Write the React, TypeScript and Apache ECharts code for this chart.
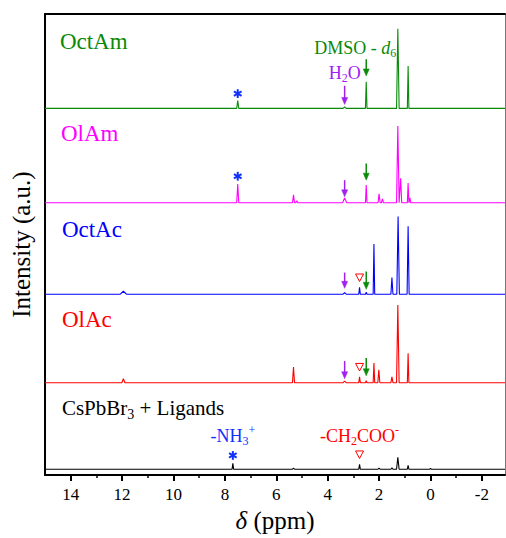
import React, { useEffect, useRef } from "react";
import * as echarts from "echarts";

const X_MIN = -2.9;
const X_MAX = 15;
const Y_MAX = 469;
const TICKS_MAJOR = [14, 12, 10, 8, 6, 4, 2, 0, -2];
const TICKS_MINOR = [13, 11, 9, 7, 5, 3, 1, -1];

const TRACE_NAMES = ["OctAm", "OlAm", "OctAc", "OlAc", "CsPbBr3 + Ligands"];
const TRACE_OFFSETS = [373, 277, 184, 94, 6];

const OCTAM_PPM = [7.5, 3.34, 2.5, 1.27, 0.87];
const OCTAM_INT = [8, 1.5, 27, 81, 43];
const OCTAM_WID = [0.04, 0.06, 0.03, 0.05, 0.03];

const OLAM_PPM = [7.5, 5.33, 5.2, 3.34, 2.5, 2.0, 1.87, 1.27, 1.16, 0.87, 0.8];
const OLAM_INT = [19, 8, 2, 5, 18, 9, 4, 78, 25, 20, 5];
const OLAM_WID = [0.04, 0.04, 0.04, 0.08, 0.03, 0.04, 0.04, 0.05, 0.04, 0.03, 0.03];

const OCTAC_PPM = [11.95, 3.34, 2.76, 2.5, 2.2, 1.5, 1.26, 0.87];
const OCTAC_INT = [3, 1.5, 7, 2, 51, 17, 79, 69];
const OCTAC_WID = [0.12, 0.06, 0.03, 0.03, 0.03, 0.04, 0.05, 0.04];

const OLAC_PPM = [11.95, 5.33, 3.34, 2.76, 2.5, 2.2, 2.01, 1.5, 1.27, 0.87];
const OLAC_INT = [4, 16, 1.5, 6, 2, 20, 13, 6, 79, 30];
const OLAC_WID = [0.06, 0.04, 0.06, 0.03, 0.03, 0.03, 0.04, 0.04, 0.05, 0.03];

const CSPB_PPM = [7.69, 5.33, 2.76, 2.0, 1.5, 1.27, 0.87, 0.0];
const CSPB_INT = [6, 1, 5, 1, 1.5, 12, 4, 1];
const CSPB_WID = [0.03, 0.04, 0.03, 0.04, 0.04, 0.05, 0.03, 0.03];

const TRACE_PEAKS = [
  [OCTAM_PPM, OCTAM_INT, OCTAM_WID],
  [OLAM_PPM, OLAM_INT, OLAM_WID],
  [OCTAC_PPM, OCTAC_INT, OCTAC_WID],
  [OLAC_PPM, OLAC_INT, OLAC_WID],
  [CSPB_PPM, CSPB_INT, CSPB_WID],
];
const TRACE_COLORS = ["#0a8a0a", "#ff00ff", "#0000ff", "#ff0000", "#000000"];

const SERIF = "'Liberation Serif', 'Times New Roman', serif";
const GREEN = "#0a8a0a";
const PURPLE = "#a020f0";
const BLUE = "#1030ff";
const RED = "#ff0000";

function buildTrace(ppm: number[], inten: number[], wid: number[], offset: number) {
  const idx = ppm.map((_, i) => i).sort((a, b) => ppm[b] - ppm[a]);
  const pts: number[][] = [[X_MAX, offset]];
  for (const i of idx) {
    pts.push([ppm[i] + wid[i], offset]);
    pts.push([ppm[i], offset + inten[i]]);
    pts.push([ppm[i] - wid[i], offset]);
  }
  pts.push([X_MIN, offset]);
  return pts;
}

// annotation layout (trace index, ppm, units above baseline)
const ARROWS = [
  { t: 0, ppm: 3.34, top: 23, bot: 4, color: PURPLE },
  { t: 0, ppm: 2.5, top: 50, bot: 33, color: GREEN },
  { t: 1, ppm: 3.34, top: 23, bot: 6, color: PURPLE },
  { t: 1, ppm: 2.5, top: 40, bot: 23, color: GREEN },
  { t: 2, ppm: 3.34, top: 22, bot: 6, color: PURPLE },
  { t: 2, ppm: 2.5, top: 23, bot: 5, color: GREEN },
  { t: 3, ppm: 3.34, top: 22, bot: 4, color: PURPLE },
  { t: 3, ppm: 2.5, top: 25, bot: 7, color: GREEN },
];
const STARS = [
  { t: 0, ppm: 7.5, y: 15 },
  { t: 1, ppm: 7.5, y: 27 },
  { t: 4, ppm: 7.69, y: 14 },
];
const TRIANGLES = [
  { t: 2, ppm: 2.76, y: 17 },
  { t: 3, ppm: 2.76, y: 16 },
  { t: 4, ppm: 2.76, y: 15 },
];

export default function App() {
  const ref = useRef<HTMLDivElement>(null);
  useEffect(() => {
    if (!ref.current) return;
    const chart = echarts.init(ref.current, undefined, { renderer: "svg" });
    const series = TRACE_PEAKS.map((p, i) => ({
      type: "line",
      name: TRACE_NAMES[i],
      xAxisIndex: 0,
      yAxisIndex: 0,
      data: buildTrace(p[0], p[1], p[2], TRACE_OFFSETS[i]),
      showSymbol: false,
      symbol: "none",
      silent: true,
      lineStyle: { color: TRACE_COLORS[i], width: 1.1 },
      z: 3,
    }));
    chart.setOption({
      animation: false,
      grid: { left: 45, top: 14, right: 1, bottom: 55, containLabel: false },
      xAxis: [
        {
          type: "value",
          min: X_MIN,
          max: X_MAX,
          inverse: true,
          position: "bottom",
          axisLine: { show: true, onZero: false, lineStyle: { color: "#000", width: 2 } },
          axisTick: { show: true, customValues: TICKS_MAJOR, length: 6, lineStyle: { color: "#000", width: 2 } },
          axisLabel: {
            customValues: TICKS_MAJOR,
            fontSize: 17,
            fontFamily: SERIF,
            color: "#000",
            margin: 11,
          },
          splitLine: { show: false },
          name: "{i|δ} (ppm)",
          nameLocation: "middle",
          nameGap: 31,
          nameTextStyle: {
            fontSize: 25,
            fontFamily: SERIF,
            color: "#000",
            rich: { i: { fontStyle: "italic", fontSize: 25, fontFamily: SERIF, color: "#000" } },
          },
        },
        {
          type: "value",
          min: X_MIN,
          max: X_MAX,
          inverse: true,
          position: "bottom",
          axisLine: { show: false, onZero: false },
          axisTick: { show: true, customValues: TICKS_MINOR, length: 3, lineStyle: { color: "#000", width: 1.5 } },
          axisLabel: { show: false },
          splitLine: { show: false },
        },
        {
          type: "value",
          min: X_MIN,
          max: X_MAX,
          inverse: true,
          position: "top",
          axisLine: { show: true, onZero: false, lineStyle: { color: "#000", width: 2 } },
          axisTick: { show: false },
          axisLabel: { show: false },
          splitLine: { show: false },
        },
      ],
      yAxis: [
        {
          type: "value",
          min: 0,
          max: Y_MAX,
          position: "left",
          axisLine: { show: true, onZero: false, lineStyle: { color: "#000", width: 2 } },
          axisTick: { show: false },
          axisLabel: { show: false },
          splitLine: { show: false },
          name: "Intensity (a.u.)",
          nameLocation: "middle",
          nameGap: 11,
          nameTextStyle: { fontSize: 25, fontFamily: SERIF, color: "#000" },
        },
        {
          type: "value",
          min: 0,
          max: Y_MAX,
          position: "right",
          axisLine: { show: true, onZero: false, lineStyle: { color: "#777", width: 1 } },
          axisTick: { show: false },
          axisLabel: { show: false },
          splitLine: { show: false },
        },
      ],
      series,
    });

    const P = (t: number, ppm: number, u: number) =>
      chart.convertToPixel({ xAxisIndex: 0, yAxisIndex: 0 }, [ppm, TRACE_OFFSETS[t] + u]) as number[];

    const g: any[] = [];
    ARROWS.forEach((a) => {
      const [x, y1] = P(a.t, a.ppm, a.top);
      const [, y2] = P(a.t, a.ppm, a.bot);
      g.push({
        type: "line",
        shape: { x1: x, y1, x2: x, y2: y2 - 6 },
        style: { stroke: a.color, lineWidth: 1.5 },
        silent: true,
      });
      g.push({
        type: "polygon",
        shape: { points: [[x - 3, y2 - 7], [x + 3, y2 - 7], [x, y2]] },
        style: { fill: a.color, stroke: a.color, lineWidth: 0.5 },
        silent: true,
      });
    });
    STARS.forEach((s) => {
      const [cx, cy] = P(s.t, s.ppm, s.y);
      const r = 4.4;
      [90, 30, 150].forEach((deg) => {
        const rad = (deg * Math.PI) / 180;
        const dx = Math.cos(rad) * r;
        const dy = Math.sin(rad) * r;
        g.push({
          type: "line",
          shape: { x1: cx - dx, y1: cy - dy, x2: cx + dx, y2: cy + dy },
          style: { stroke: BLUE, lineWidth: 2 },
          silent: true,
        });
      });
    });
    TRIANGLES.forEach((tr) => {
      const [cx, cy] = P(tr.t, tr.ppm, tr.y);
      g.push({
        type: "polygon",
        shape: { points: [[cx - 4, cy - 3.5], [cx + 4, cy - 3.5], [cx, cy + 4]] },
        style: { fill: "#fff", stroke: RED, lineWidth: 1 },
        silent: true,
      });
    });

    const sub = (size: number, color: string) => ({
      fontSize: size,
      fontFamily: SERIF,
      fill: color,
      lineHeight: size * 0.8,
      verticalAlign: "bottom",
    });
    const sup = (size: number, color: string) => ({
      fontSize: size,
      fontFamily: SERIF,
      fill: color,
      lineHeight: size * 1.2,
      verticalAlign: "top",
    });
    const txt = (x: number, y: number, text: string, size: number, color: string, align: string, rich?: any) => ({
      type: "text",
      x,
      y,
      silent: true,
      z: 10,
      style: {
        text,
        fill: color,
        fontSize: size,
        fontFamily: SERIF,
        lineHeight: Math.round(size * 1.3),
        align,
        verticalAlign: "middle",
        rich: rich || {},
      },
    });

    const labelY = [68, 70, 66, 64, 62];
    const labelX = P(0, 14.42, 0)[0];
    g.push(txt(labelX, P(0, 0, labelY[0])[1], "OctAm", 23, GREEN, "left"));
    g.push(txt(labelX + 1, P(1, 0, labelY[1])[1], "OlAm", 23, "#ff00ff", "left"));
    g.push(txt(labelX + 2, P(2, 0, labelY[2])[1], "OctAc", 23, "#0000ff", "left"));
    g.push(txt(labelX + 2, P(3, 0, labelY[3])[1], "OlAc", 23, RED, "left"));
    g.push(
      txt(labelX + 2, P(4, 0, labelY[4])[1], "CsPbBr{s|3} + Ligands", 21, "#000", "left", {
        s: sub(14, "#000"),
      })
    );

    const h2o = P(0, 3.34, 36);
    g.push(txt(h2o[0], h2o[1], "H{s|2}O", 18, PURPLE, "center", { s: sub(12, PURPLE) }));
    const dmso = P(0, 2.93, 61.5);
    g.push(
      txt(dmso[0], dmso[1], "DMSO - {i|d}{s|6}", 18, GREEN, "center", {
        i: { fontSize: 18, fontFamily: SERIF, fontStyle: "italic", fill: GREEN, lineHeight: 23, verticalAlign: "middle" },
        s: sub(12, GREEN),
      })
    );
    const nh3 = P(4, 7.69, 34);
    g.push(
      txt(nh3[0], nh3[1], "-NH{s|3}{p|+}", 18, BLUE, "center", { s: sub(12, BLUE), p: sup(12, BLUE) })
    );
    const coo = P(4, 2.76, 34);
    g.push(
      txt(coo[0], coo[1], "-CH{s|2}COO{p|-}", 18, RED, "center", { s: sub(12, RED), p: sup(12, RED) })
    );

    chart.setOption({ graphic: g });
    return () => chart.dispose();
  }, []);
  return (
    <div
      ref={ref}
      style={{ position: "fixed", left: 0, top: 0, width: 506, height: 538, background: "#fff" }}
    />
  );
}
